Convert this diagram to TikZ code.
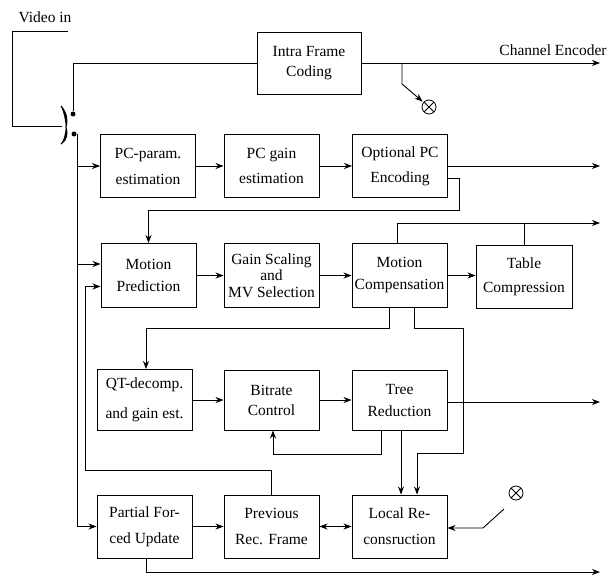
\documentclass[tikz,border=0pt]{standalone}
\usepackage{fontspec}
\setmainfont{Liberation Serif}
\usetikzlibrary{arrows.meta,calc}
\begin{document}
\begin{tikzpicture}[x=1pt,y=-1pt,
  line width=0.9pt,
  font=\fontsize{15.5}{19}\selectfont,
  blk/.style={draw, minimum width=95pt, minimum height=63pt, inner sep=0pt, align=center},
  ls/.style={font=\fontsize{15.5}{#1}\selectfont},
  arr/.style={-{Stealth[length=8pt,width=6pt,inset=2.5pt]}},
  darr/.style={{Stealth[length=8pt,width=6pt,inset=2.5pt]}-{Stealth[length=8pt,width=6pt,inset=2.5pt]}},
  ox/.style={circle, draw, line width=0.8pt, minimum size=14pt, inner sep=0pt,
    path picture={\draw[line width=0.8pt] ($(path picture bounding box.center)+(-5,-5)$) -- ($(path picture bounding box.center)+(5,5)$) ($(path picture bounding box.center)+(-5,5)$) -- ($(path picture bounding box.center)+(5,-5)$);}},
  sdot/.style={circle, fill, inner sep=0pt, minimum size=5pt}
]
\useasboundingbox (0,0) rectangle (612,575);

% labels
\node (vin) at (45,17) {Video in};
\node (chenc) at (553,50) {Channel Encoder};

% boxes
\node[blk, minimum width=104pt, minimum height=62pt, ls=20] (intra) at (309,63) {Intra Frame\\Coding};
\node[blk, ls=26] (pcparam) at (148,166) {PC-param.\\estimation};
\node[blk, ls=25] (pcgain) at (271.5,166) {PC gain\\estimation};
\node[blk, ls=25] (optpc) at (400,166) {Optional PC\\Encoding};
\node[blk, minimum height=64pt, ls=22] (motpred) at (148.5,275.5) {Motion\\Prediction};
\node[blk, minimum height=64pt, ls=16.5] (gain) at (271.5,275.5) {Gain Scaling\\and\\MV Selection};
\node[blk, minimum height=64pt, ls=22] (motcomp) at (399.5,275.5) {Motion\\Compensation};
\node[blk, minimum width=96pt, ls=24] (table) at (524,276.5) {Table\\Compression};
\node[blk, minimum height=61pt, ls=30] (qt) at (144.5,400) {QT-decomp.\\and gain est.};
\node[blk, minimum height=60pt, ls=20] (bitrate) at (271.5,400) {Bitrate\\Control};
\node[blk, minimum height=60pt, ls=22] (tree) at (399.5,400) {Tree\\Reduction};
\node[blk, ls=26] (partial) at (144.5,526.5) {Partial For-\\ced Update};
\node[blk, ls=26] (prev) at (271.5,526.5) {Previous\\Rec. Frame};
\node[blk, ls=26] (local) at (399.5,526.5) {Local Re-\\consruction};

% crossed circles
\node[ox] (ox1) at (429,107) {};
\node[ox] (ox2) at (516,493) {};

% video input and switch
\coordinate (v1) at (68,31);
\coordinate (v2) at (12,31);
\coordinate (v3) at (62,126);
\draw (v1) -- (v2) |- (v3);
\draw[line width=1.1pt] (61,106) .. controls (67,113) and (68,121) .. (66,127) .. controls (68,134) and (67,140) .. (61,144);
\fill (61,106) .. controls (67,113) and (68,121) .. (66,127) .. controls (65,120) and (64,113) .. (61,106);
\fill (61,144) .. controls (67,140) and (68,134) .. (66,127) .. controls (65,134) and (64,140) .. (61,144);
\node[sdot] (du) at (73,114) {};
\node[sdot] (dl) at (74,134) {};

% intra branch
\draw (du) |- (intra.west);
\coordinate (o0) at (600,63);
\draw[arr] (intra.east) -- (o0);
\coordinate (br) at (402,63);
\coordinate (br2) at (402,84);
\draw[arr, shorten >=1pt] (br) -- (br2) -- (ox1);

% main bus
\coordinate (bs) at (77,134);
\draw[arr] (bs) |- (partial.west);
\coordinate (tp1) at (77,166);
\draw[arr] (tp1) -- (pcparam.west);
\coordinate (tp2) at (77,264);
\draw[arr] (tp2) -- (tp2 -| motpred.west);

% row 1
\draw[arr] (pcparam.east) -- (pcparam.east -| pcgain.west);
\draw[arr] (pcgain.east) -- (pcgain.east -| optpc.west);
\coordinate (o1) at (600,166);
\draw[arr] (optpc.east) -- (o1);
\coordinate (c1) at (459,210);
\draw[arr] ($(optpc.east)+(0,12)$) -| (c1) -| (motpred.north);

% row 2
\draw[arr] (motpred.east) -- (motpred.east -| gain.west);
\draw[arr] (gain.east) -- (gain.east -| motcomp.west);
\draw[arr] (motcomp.east) -- (motcomp.east -| table.west);
\coordinate (o2) at (600,223);
\draw[arr] ($(motcomp.north)+(-2.5,0)$) |- (o2);
\draw (table.north) -- (table.north |- o2);
\coordinate (fb) at (85,470);
\draw[arr] (prev.north) |- (fb) |- ($(motpred.west)+(0,11)$);

% motion compensation outputs
\coordinate (c2) at (146,328);
\draw[arr] ($(motcomp.south)+(-10.5,0)$) |- (c2) -- (c2 |- qt.north);
\coordinate (c3) at (463,328);
\coordinate (c4) at (417,453);
\draw[arr] ($(motcomp.south)+(14.5,0)$) |- (c3) |- (c4) -- (c4 |- local.north);

% row 3
\draw[arr] (qt.east) -- (qt.east -| bitrate.west);
\draw[arr] (bitrate.east) -- (bitrate.east -| tree.west);
\coordinate (o3) at (600,402);
\draw[arr] (tree.east |- o3) -- (o3);
\coordinate (c5) at (273,454);
\draw[arr] ($(tree.south)+(-18.5,0)$) |- (c5) -- (c5 |- bitrate.south);
\coordinate (t5) at ($(tree.south)+(1.5,0)$);
\draw[arr] (t5) -- (t5 |- local.north);

% row 4
\draw[arr] (partial.east) -- (partial.east -| prev.west);
\draw[darr] (prev.east) -- (prev.east -| local.west);
\coordinate (s1) at (504,509);
\coordinate (s2) at (483,528);
\draw[arr] (s1) -- (s2) -- (s2 -| local.east);
\coordinate (o4) at (600,572);
\draw[arr] ($(partial.south)+(1.5,0)$) |- (o4);
\end{tikzpicture}
\end{document}
